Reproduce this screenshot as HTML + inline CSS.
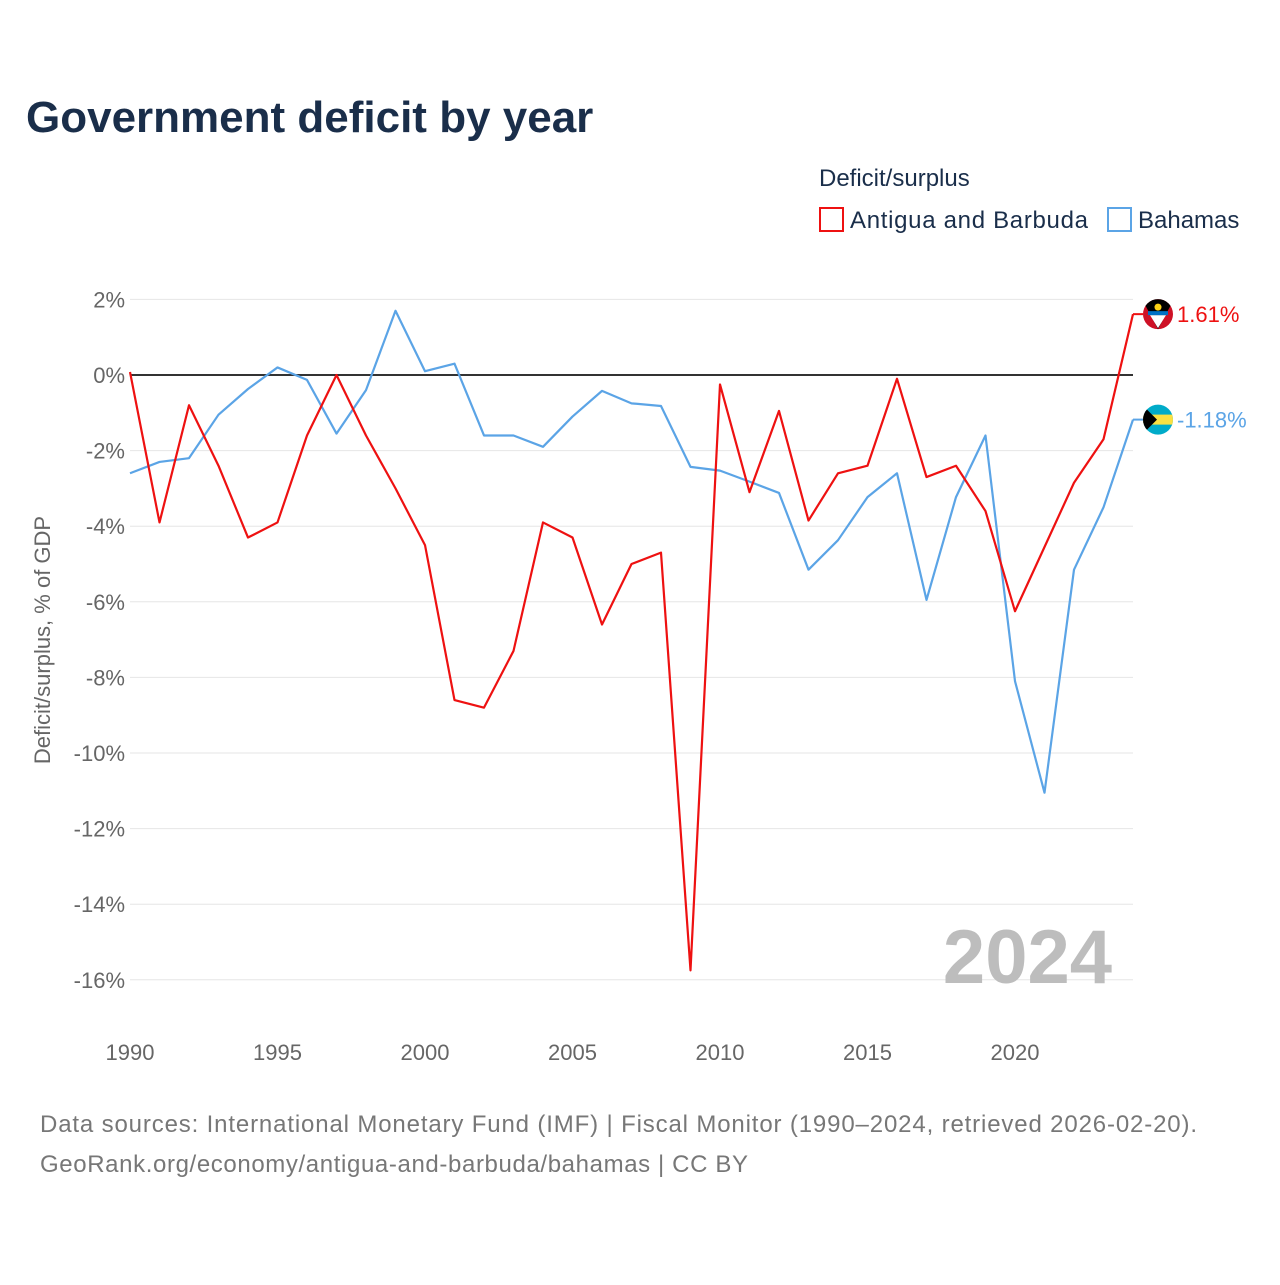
<!DOCTYPE html>
<html><head><meta charset="utf-8"><style>
body{margin:0;background:#fff;font-family:"Liberation Sans",sans-serif;}
svg text{font-family:"Liberation Sans",sans-serif;}
</style></head><body>
<svg width="1280" height="1280" viewBox="0 0 1280 1280">
<defs>
<clipPath id="clipA"><circle cx="1158" cy="314.1" r="15"/></clipPath>
<clipPath id="clipB"><circle cx="1158" cy="419.6" r="15"/></clipPath>
</defs>
<text x="26" y="132" font-size="44" font-weight="bold" fill="#1a2e4a">Government deficit by year</text>
<text x="819" y="186" font-size="24" fill="#1a2e4a">Deficit/surplus</text>
<g><rect x="820" y="208" width="23" height="23" fill="none" stroke="#ee1111" stroke-width="2"/><text x="850" y="228" font-size="24" fill="#1a2e4a" textLength="238">Antigua and Barbuda</text></g>
<g><rect x="1108" y="208" width="23" height="23" fill="none" stroke="#5ba4e6" stroke-width="2"/><text x="1138" y="228" font-size="24" fill="#1a2e4a">Bahamas</text></g>
<g id="grid"></g>
<text transform="translate(50,640) rotate(-90)" text-anchor="middle" font-size="22" fill="#666">Deficit/surplus, % of GDP</text>
<text x="1112" y="983" text-anchor="end" font-size="76" font-weight="bold" fill="#bdbdbd">2024</text>
<g id="series"></g>
<text x="40" y="1132" font-size="24" fill="#777" textLength="1157">Data sources: International Monetary Fund (IMF) | Fiscal Monitor (1990–2024, retrieved 2026-02-20).</text>
<text x="40" y="1172" font-size="24" fill="#777" textLength="708">GeoRank.org/economy/antigua-and-barbuda/bahamas | CC BY</text>
</svg>
<script>
const years=[];for(let y=1990;y<=2024;y++)years.push(y);
const antigua=[0.08,-3.9,-0.8,-2.4,-4.3,-3.9,-1.6,0,-1.6,-3.0,-4.5,-8.6,-8.8,-7.3,-3.9,-4.3,-6.6,-5.0,-4.7,-15.75,-0.25,-3.1,-0.95,-3.85,-2.6,-2.4,-0.1,-2.7,-2.4,-3.6,-6.25,-4.55,-2.85,-1.7,1.61];
const bahamas=[-2.6,-2.3,-2.2,-1.05,-0.37,0.2,-0.13,-1.55,-0.4,1.7,0.1,0.3,-1.6,-1.6,-1.9,-1.1,-0.42,-0.75,-0.82,-2.43,-2.53,-2.82,-3.12,-5.15,-4.37,-3.23,-2.6,-5.95,-3.23,-1.6,-8.1,-11.05,-5.15,-3.5,-1.18];
const yTicks=[2,0,-2,-4,-6,-8,-10,-12,-14,-16];
const xTicks=[1990,1995,2000,2005,2010,2015,2020];
const NS="http://www.w3.org/2000/svg";
const X=y=>130+(y-1990)*(1133-130)/34;
const Y=v=>375-v*37.8;
function mk(tag,attrs,parent){const e=document.createElementNS(NS,tag);for(const k in attrs)e.setAttribute(k,attrs[k]);parent.appendChild(e);return e;}
const g=document.getElementById('grid');
yTicks.forEach(t=>{
  if(t!==0){const l=mk('line',{x1:130,x2:1133,y1:Y(t),y2:Y(t),stroke:'#e6e6e6','stroke-width':1},g);
  
  }
  const tx=mk('text',{x:125,y:Y(t)+8,'text-anchor':'end','font-size':22,fill:'#666'},g);tx.textContent=t+'%';
  
  
});
const z=mk('line',{x1:130,x2:1133,y1:Y(0),y2:Y(0),stroke:'#333','stroke-width':2},g);


xTicks.forEach(t=>{const tx=mk('text',{x:X(t),y:1060,'text-anchor':'middle','font-size':22,fill:'#666'},g);tx.textContent=t;
  
  });
const s=document.getElementById('series');
function line(data,color,name){
  const p=mk('polyline',{points:data.map((v,i)=>X(years[i])+','+Y(v)).join(' '),fill:'none',stroke:color,'stroke-width':2.2,'stroke-linejoin':'round'},s);
  
  
}
line(bahamas,'#5ba4e6','bahamas-line');
line(antigua,'#ee1111','antigua-line');
function endLabel(v,color,name,clip,flag){
  const y=Y(v);
  mk('line',{x1:1133,x2:1143,y1:y,y2:y,stroke:color,'stroke-width':2},s);
  const c=mk('g',{'clip-path':'url(#'+clip+')'},s);
  
  
  flag(c,1158,y);
  const t=mk('text',{x:1177,y:y+8,'font-size':22,fill:color},s);
  t.textContent=v.toFixed(2)+'%';
  
  
}
endLabel(antigua[antigua.length-1],'#ee1111','antigua','clipA',(c,cx,cy)=>{
  mk('rect',{x:cx-16,y:cy-16,width:32,height:32,fill:'#ce1126'},c);
  mk('path',{d:`M${cx-16} ${cy-15} L${cx+16} ${cy-15} L${cx} ${cy+15} Z`,fill:'#000'},c);
  mk('path',{d:`M${cx-8} ${cy+1} L${cx+8} ${cy+1} L${cx} ${cy+14} Z`,fill:'#fff'},c);
  mk('rect',{x:cx-10,y:cy-3,width:20,height:4,fill:'#0072c6'},c);
  mk('circle',{cx:cx,cy:cy-7,r:3.5,fill:'#fcd116'},c);
});
endLabel(bahamas[bahamas.length-1],'#5ba4e6','bahamas','clipB',(c,cx,cy)=>{
  mk('rect',{x:cx-16,y:cy-16,width:32,height:32,fill:'#00abc9'},c);
  mk('rect',{x:cx-16,y:cy-5,width:32,height:10,fill:'#fae042'},c);
  mk('path',{d:`M${cx-16} ${cy-15} L${cx-1} ${cy} L${cx-16} ${cy+15} Z`,fill:'#000'},c);
});
</script>
</body></html>
